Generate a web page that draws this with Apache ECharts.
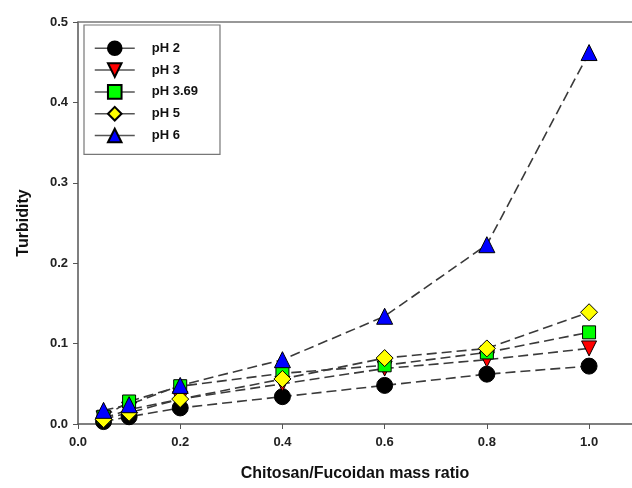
<!DOCTYPE html>
<html>
<head>
<meta charset="utf-8">
<script src="https://cdn.jsdelivr.net/npm/echarts@6/dist/echarts.min.js"></script>
<style>
  html, body { margin: 0; padding: 0; background: #fff; }
  #main { width: 632px; height: 488px; }
</style>
</head>
<body>
<div id="main"></div>
<script>
  // mass ratio on x
  var ratios = [0.05, 0.1, 0.2, 0.4, 0.6, 0.8, 1.0];
  var xTicks = [0, 0.2, 0.4, 0.6, 0.8, 1.0];
  var names = ['pH 2', 'pH 3', 'pH 3.69', 'pH 5', 'pH 6'];
  // turbidity
  var ph2 = [0.003, 0.009, 0.020, 0.034, 0.048, 0.062, 0.072];
  var ph3 = [0.007, 0.018, 0.031, 0.050, 0.069, 0.080, 0.094];
  var ph369 = [0.009, 0.028, 0.047, 0.063, 0.073, 0.089, 0.114];
  var ph5 = [0.006, 0.014, 0.031, 0.056, 0.082, 0.094, 0.139];
  var ph6 = [0.017, 0.024, 0.048, 0.080, 0.134, 0.223, 0.462];

  var chart = echarts.init(document.getElementById('main'));
  var font = 'Liberation Sans, Arial, sans-serif';

  function pairs(ys) {
    return ratios.map(function (x, i) { return [x, ys[i]]; });
  }
  function mkSeries(name, ys, symbol, size, color, rot) {
    return {
      name: name,
      type: 'line',
      data: pairs(ys),
      symbol: symbol,
      symbolSize: size,
      symbolRotate: rot || 0,
      showAllSymbol: true,
      lineStyle: { color: '#3a3a3a', width: 1.6, type: [10, 5] },
      itemStyle: { color: color, borderColor: '#000', borderWidth: 1 },
      emphasis: { disabled: true },
      animation: false
    };
  }

  chart.setOption({
    backgroundColor: '#fff',
    grid: { left: 78, top: 22, right: 0, bottom: 64 },
    legend: {
      orient: 'vertical',
      left: 84,
      top: 25,
      padding: [15.5, 22, 11, 10],
      itemWidth: 40,
      itemHeight: 17,
      itemGap: 6.2,
      borderColor: '#777',
      borderWidth: 1.2,
      lineStyle: { type: 'solid', color: '#555', width: 1.5 },
      textStyle: { fontFamily: font, fontWeight: 'bold', fontSize: 13, color: '#111', padding: [0, 0, 0, 12] },
      data: names
    },
    xAxis: [{
      type: 'value',
      min: 0,
      max: 1.084,
      name: 'Chitosan/Fucoidan mass ratio',
      nameLocation: 'middle',
      nameGap: 42,
      nameTextStyle: { fontFamily: font, fontWeight: 'bold', fontSize: 16, color: '#111' },
      axisLine: { lineStyle: { color: '#555', width: 1.5 } },
      axisTick: { show: true, length: 5, customValues: xTicks, lineStyle: { color: '#555' } },
      axisLabel: {
        customValues: xTicks,
        margin: 12,
        fontFamily: font, fontWeight: 'bold', fontSize: 13, color: '#222',
        formatter: function (v) { return v.toFixed(1); }
      },
      splitLine: { show: false }
    }, {
      type: 'value',
      position: 'top',
      min: 0,
      max: 1.084,
      axisLine: { show: true, onZero: false, lineStyle: { color: '#777', width: 1.5 } },
      axisTick: { show: false },
      axisLabel: { show: false },
      splitLine: { show: false }
    }],
    yAxis: {
      type: 'value',
      min: 0,
      max: 0.5,
      interval: 0.1,
      name: 'Turbidity',
      nameLocation: 'middle',
      nameGap: 46,
      nameTextStyle: { fontFamily: font, fontWeight: 'bold', fontSize: 16, color: '#111' },
      axisLine: { show: true, lineStyle: { color: '#555', width: 1.5 } },
      axisTick: { show: true, length: 5, lineStyle: { color: '#555' } },
      axisLabel: {
        margin: 10,
        fontFamily: font, fontWeight: 'bold', fontSize: 13, color: '#222',
        formatter: function (v) { return v.toFixed(1); }
      },
      splitLine: { show: false }
    },
    series: [
      mkSeries('pH 2', ph2, 'circle', 16, '#000'),
      mkSeries('pH 3', ph3, 'triangle', 15, '#ff0000', 180),
      mkSeries('pH 3.69', ph369, 'rect', 13, '#00ff00'),
      mkSeries('pH 5', ph5, 'diamond', 17, '#ffff00'),
      mkSeries('pH 6', ph6, 'triangle', 16, '#0000ff')
    ]
  });
</script>
</body>
</html>
